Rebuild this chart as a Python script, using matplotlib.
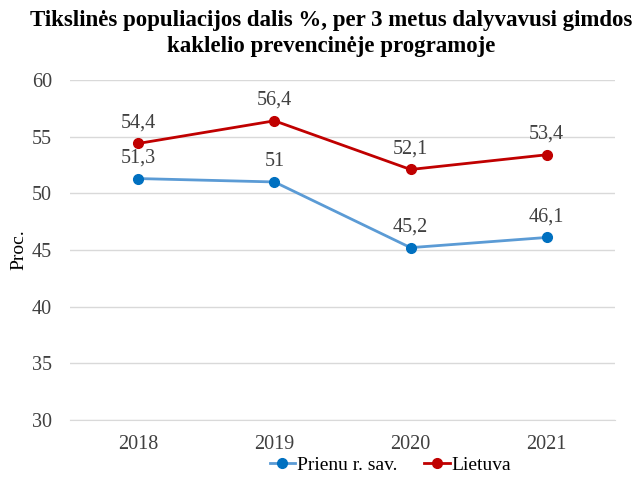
import matplotlib.pyplot as plt

years = ['2018', '2019', '2020', '2021']
prienu = [51.3, 51.0, 45.2, 46.1]
lietuva = [54.4, 56.4, 52.1, 53.4]
prienu_labels = ['51,3', '51', '45,2', '46,1']
lietuva_labels = ['54,4', '56,4', '52,1', '53,4']

plt.rcParams['font.family'] = ['Liberation Serif', 'DejaVu Serif']

fig = plt.figure(figsize=(6.39, 4.82), dpi=100)
ax = fig.add_axes([0.11, 0.129, 0.852, 0.705])

x = list(range(len(years)))
ax.plot(x, prienu, color='#5B9BD5', linewidth=2, marker='o', markersize=7,
        markerfacecolor='#0070C0', markeredgecolor='#0070C0', label='Prienu r. sav.')
ax.plot(x, lietuva, color='#C00000', linewidth=2, marker='o', markersize=7,
        markerfacecolor='#C00000', markeredgecolor='#C00000', label='Lietuva')

for i in x:
    ax.annotate(prienu_labels[i], (i, prienu[i]), xytext=(0, 8), textcoords='offset points',
                ha='center', va='bottom', fontsize=14.5, color='#404040')
    ax.annotate(lietuva_labels[i], (i, lietuva[i]), xytext=(0, 8), textcoords='offset points',
                ha='center', va='bottom', fontsize=14.5, color='#404040')

ax.set_xlim(-0.5, 3.5)
ax.set_ylim(30, 60)
ax.set_yticks(range(30, 61, 5))
ax.set_xticks(x)
ax.set_xticklabels(years)
ax.tick_params(axis='y', length=0, labelsize=14.5, labelcolor='#404040', pad=13)
ax.tick_params(axis='x', length=0, labelsize=14.5, labelcolor='#404040', pad=11)
ax.grid(axis='y', color='#D9D9D9', linewidth=1)
ax.set_axisbelow(True)
for s in ['top', 'right', 'left']:
    ax.spines[s].set_visible(False)
ax.spines['bottom'].set_color('#D9D9D9')

ax.set_ylabel('Proc.', fontsize=14, color='#000000')
ax.yaxis.set_label_coords(-0.078, 0.5)
fig.suptitle('Tikslinės populiacijos dalis %, per 3 metus dalyvavusi gimdos\nkaklelio prevencinėje programoje',
             fontsize=16.5, fontweight='bold', x=0.518, y=0.98, linespacing=1.35)

fig.legend(loc='center', bbox_to_anchor=(0.611, 0.035), ncol=2, frameon=False,
           fontsize=14, handlelength=1.3, handletextpad=0.1, columnspacing=1.4)

fig.savefig('out.png', dpi=100)
